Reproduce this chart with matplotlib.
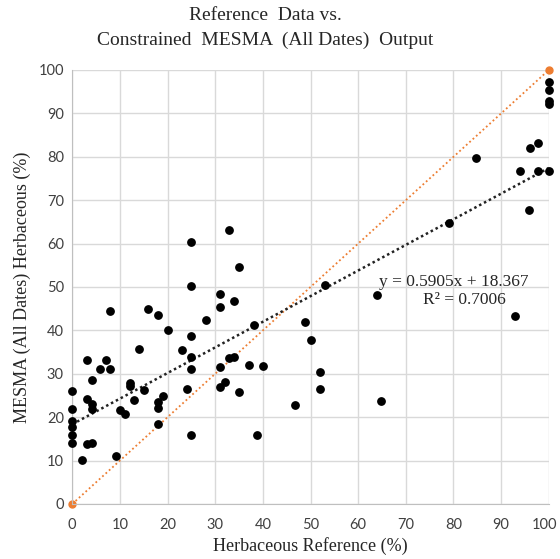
import numpy as np
import matplotlib.pyplot as plt
import matplotlib.transforms as mtransforms

# data
ref_pct = [0, 0, 0, 0, 0, 0,
           2.1, 3.0, 3.0, 3.0, 4.1, 4.1, 4.1, 4.1, 5.9, 7.1, 8.0, 8.0, 9.2,
           10.0, 11.0, 12.1, 12.1, 13.0, 14.1, 15.0, 16.0,
           18.0, 18.0, 18.0, 18.0, 19.0, 20.0, 23.0, 24.0,
           25.0, 25.0, 25.0, 25.0, 25.0, 25.0, 28.0,
           31.0, 31.0, 31.0, 31.0, 32.1, 32.9, 32.9, 34.0, 34.0, 35.0, 35.0,
           37.0, 38.1, 38.8, 40.0, 46.8, 48.9, 50.0, 51.9, 51.9, 53.0,
           64.0, 64.8, 79.0, 84.8, 93.0, 94.0, 95.9, 96.0, 97.8, 97.8,
           100, 100, 100, 100, 100]
mesma_pct = [26.0, 22.0, 19.1, 17.7, 15.8, 14.1,
             10.1, 33.2, 24.2, 13.8, 28.5, 23.1, 22.0, 14.1, 31.1, 33.2, 44.4, 31.1, 11.0,
             21.6, 20.8, 27.9, 27.1, 23.9, 35.7, 26.2, 45.0,
             43.6, 23.5, 22.2, 18.4, 24.9, 40.0, 35.5, 26.5,
             60.4, 50.2, 38.6, 33.8, 31.0, 15.9, 42.4,
             48.3, 45.3, 31.6, 26.9, 28.2, 63.2, 33.6, 46.8, 33.8, 54.7, 25.9,
             32.1, 41.3, 16.0, 31.8, 22.7, 42.0, 37.9, 30.5, 26.4, 50.4,
             48.1, 23.7, 64.7, 79.7, 43.3, 76.7, 67.8, 82.1, 83.1, 76.7,
             97.2, 95.3, 92.8, 92.2, 76.7]

# trendline from the chart
slope = 0.5905
intercept = 18.367
r2 = 0.7006
one_to_one = [0, 100]

serif = 'Liberation Serif'
sans = 'Lato'
orange = '#ED7D31'

fig = plt.figure(figsize=(5.6, 5.59), dpi=100)
ax = fig.add_axes([0.129, 0.0984, 0.851, 0.7764])

# 1:1 line with end markers
ax.plot(one_to_one, one_to_one, linestyle=(0, (1, 1.5)), color=orange,
        linewidth=1.3, marker='o', markersize=5, zorder=2, clip_on=False)

# fitted line
xfit = np.array([0, 100])
ax.plot(xfit, slope * xfit + intercept, linestyle=(0, (1, 1.2)),
        color='#222222', linewidth=1.8, zorder=3, clip_on=False)

ax.scatter(ref_pct, mesma_pct, s=28, color='black', zorder=4, clip_on=False)

ax.set_xlim(0, 100)
ax.set_ylim(0, 100)
ax.set_xticks(np.arange(0, 101, 10))
ax.set_yticks(np.arange(0, 101, 10))
ax.grid(True, color='#d9d9d9', linewidth=1)
ax.set_axisbelow(True)
for s in ['top', 'right']:
    ax.spines[s].set_visible(False)
for s in ['left', 'bottom']:
    ax.spines[s].set_color('#bfbfbf')
ax.tick_params(length=0, labelsize=10.5, labelcolor='#404040', pad=6)
ax.tick_params(axis='x', pad=10)
for lab in ax.get_xticklabels() + ax.get_yticklabels():
    lab.set_family(sans)

# nudge the last x label so it stays inside the figure
last = ax.get_xticklabels()[-1]
last.set_transform(last.get_transform() +
                   mtransforms.ScaledTranslation(-3 / 72, 0, fig.dpi_scale_trans))

ax.set_xlabel('Herbaceous Reference (%)', family=serif, fontsize=13,
              color='#262626', labelpad=4)
ax.set_ylabel('MESMA (All Dates) Herbaceous (%)', family=serif, fontsize=13,
              color='#262626', labelpad=5)

fig.text(0.473, 0.972, 'Reference  Data vs.', family=serif, fontsize=14,
         ha='center', va='center', color='#262626')
fig.text(0.473, 0.927, 'Constrained  MESMA  (All Dates)  Output', family=serif,
         fontsize=14, ha='center', va='center', color='#262626')

# equation label
ax.text(80.1, 51.2, 'y = 0.5905x + 18.367', family=serif, fontsize=12.5,
        ha='center', va='center', color='#262626')
ax.text(82.2, 47.0, 'R\u00b2 = %.4f' % r2, family=serif, fontsize=12.5,
        ha='center', va='center', color='#262626')

fig.savefig('out.png', dpi=100)
